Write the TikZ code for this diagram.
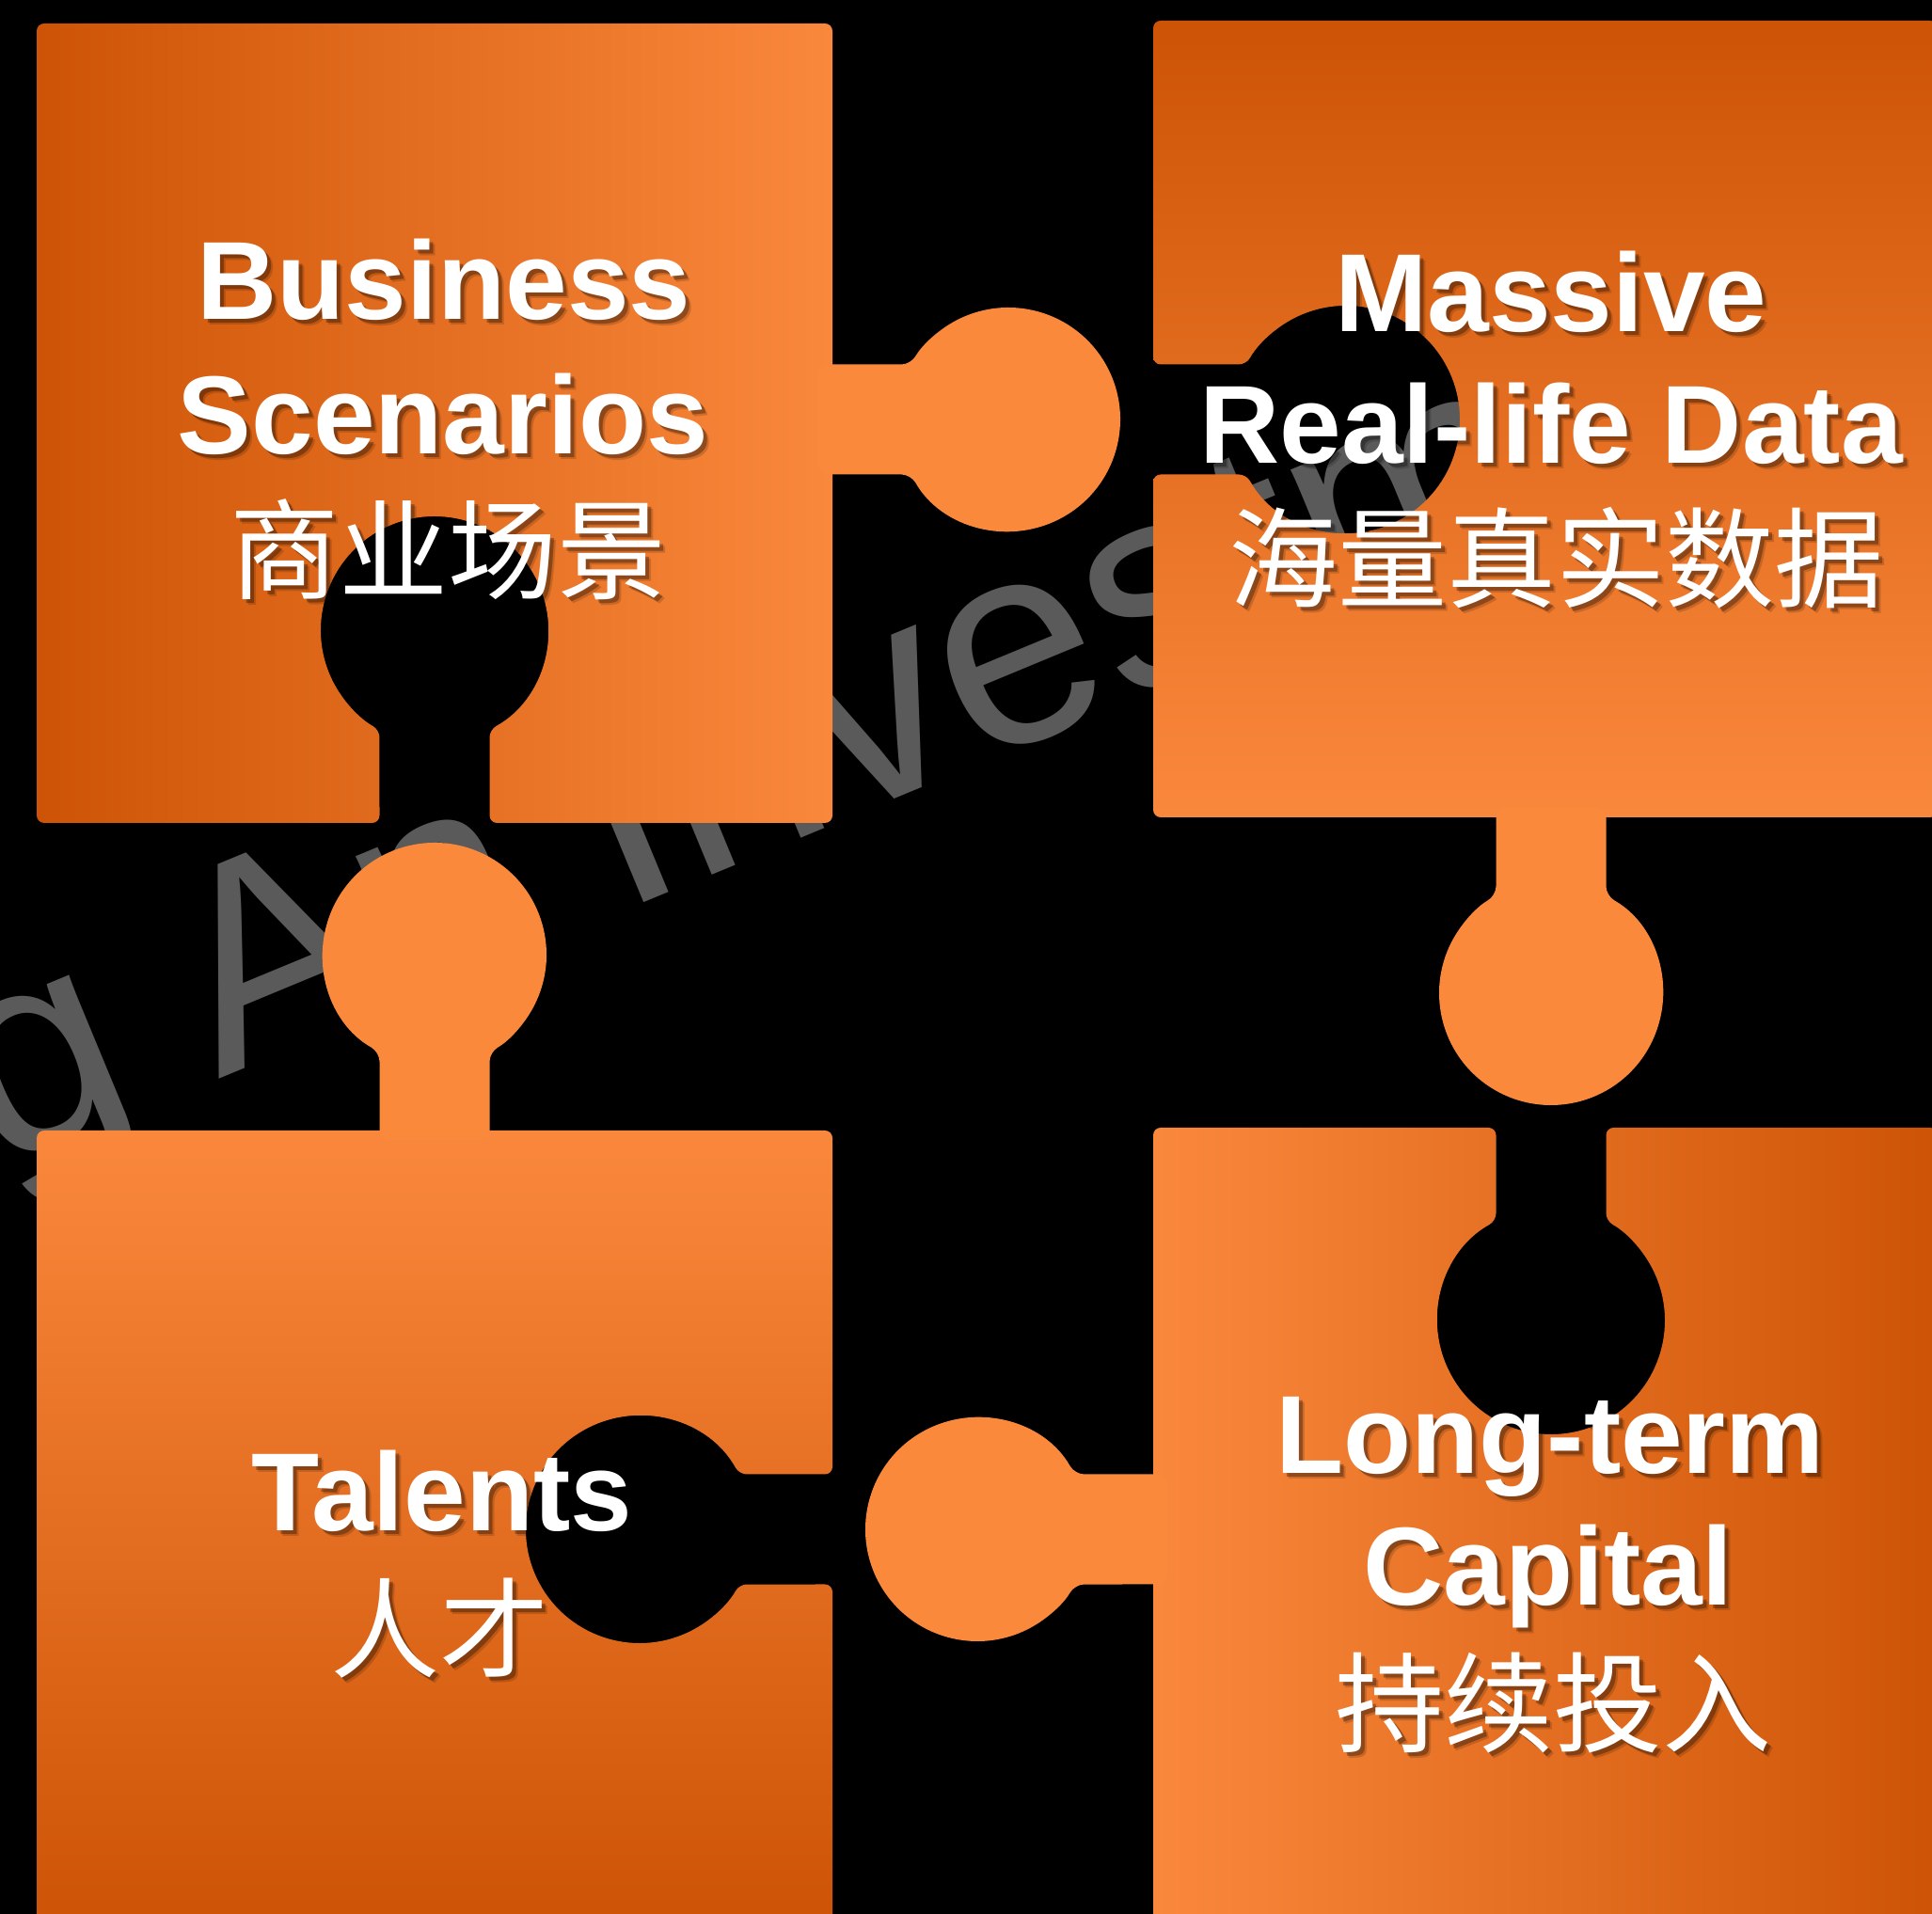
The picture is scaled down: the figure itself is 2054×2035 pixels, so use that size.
\documentclass[tikz,border=0pt]{standalone}
\usepackage{fontspec}
\setmainfont{Liberation Sans}
\newfontfamily\cjk{Noto Sans CJK SC}
\definecolor{pdark}{RGB}{205,84,6}
\definecolor{plight}{RGB}{250,136,60}
\definecolor{knobc}{RGB}{251,137,60}
\definecolor{wmc}{RGB}{90,90,90}
\newcommand\lbl[4]{%
  \node[#2, text=black, opacity=0.15, xshift=6pt, yshift=-6pt] (#1t) at (#3) {#4};
  \node[#2, text=black, opacity=0.3, xshift=4pt, yshift=-4pt] (#1s) at (#3) {#4};
  \node[#2] (#1) at (#3) {#4};}
\begin{document}
\begin{tikzpicture}[x=1pt,y=1pt,
  en/.style={font=\bfseries\fontsize{118}{118}\selectfont, text=white, inner sep=0pt, anchor=base},
  cn/.style={font=\cjk\fontsize{116}{116}\selectfont, text=white, inner sep=0pt, anchor=base},
  piece/.style={rounded corners=8pt},
  knob/.style={fill=knobc, rounded corners=10pt}]
\useasboundingbox (0,0) rectangle (2054,2035);
\fill[black] (0,0) rectangle (2054,2035);
% watermark
\node[font=\fontsize{307}{307}\selectfont, text=wmc, rotate=22.5, anchor=base west, inner sep=0pt] (wmark) at (233,888) {\llap{Ping }An Investment};
% top-left piece
\shade[piece, left color=pdark, right color=plight]
  (39,2010) -- (885,2010) -- (885,1160) -- (520.5,1160) -- (520.5,1259.1)
  arc[start angle=-61.08, end angle=241.08, radius=121] -- (403.5,1160) -- (39,1160) -- cycle;
% top-right piece
\shade[piece, top color=pdark, bottom color=plight]
  (1226,2013) -- (2060,2013) -- (2060,1166) -- (1226,1166) -- (1226,1530.5) -- (1325.1,1530.5)
  arc[start angle=-151.08, end angle=151.08, radius=121] -- (1226,1647.5) -- cycle;
% bottom-left piece
\shade[piece, top color=plight, bottom color=pdark]
  (39,833) -- (885,833) -- (885,467.5) -- (785.9,467.5)
  arc[start angle=28.92, end angle=331.08, radius=121] -- (885,350.5) -- (885,-10) -- (39,-10) -- cycle;
% bottom-right piece
\shade[piece, left color=plight, right color=pdark]
  (1226,836) -- (1590.5,836) -- (1590.5,736.9)
  arc[start angle=118.92, end angle=421.08, radius=121] -- (1707.5,836) -- (2060,836) -- (2060,-10) -- (1226,-10) -- cycle;
% knobs
\path[knob] (870,1530.5) -- (968.4,1530.5)
  arc[start angle=-150.55, end angle=150.55, radius=119] -- (870,1647.5) -- cycle;
\path[knob] (1707.5,1176) -- (1707.5,1082.6)
  arc[start angle=60.55, end angle=-240.55, radius=119] -- (1590.5,1176) -- cycle;
\path[knob] (403.5,823) -- (403.5,916.4)
  arc[start angle=240.55, end angle=-60.55, radius=119] -- (520.5,823) -- cycle;
\path[knob] (1241,467.5) -- (1142.6,467.5)
  arc[start angle=29.45, end angle=330.55, radius=119] -- (1241,350.5) -- cycle;
% texts
\lbl{bus}{en}{472,1695}{Business}
\lbl{sce}{en}{471,1552}{Scenarios}
\lbl{sycj}{cn}{476,1406}{商业场景}
\lbl{mas}{en}{1649,1682}{Massive}
\lbl{real}{en}{1649,1542}{Real-life Data}
\lbl{hlsj}{cn}{1654,1397}{海量真实数据}
\lbl{tal}{en}{470,407}{Talents}
\lbl{rc}{cn}{467,259}{人才}
\lbl{long}{en}{1648,468}{Long-term}
\lbl{cap}{en}{1646,328}{Capital}
\lbl{cxtr}{cn}{1651,180}{持续投入}
\end{tikzpicture}
\end{document}
